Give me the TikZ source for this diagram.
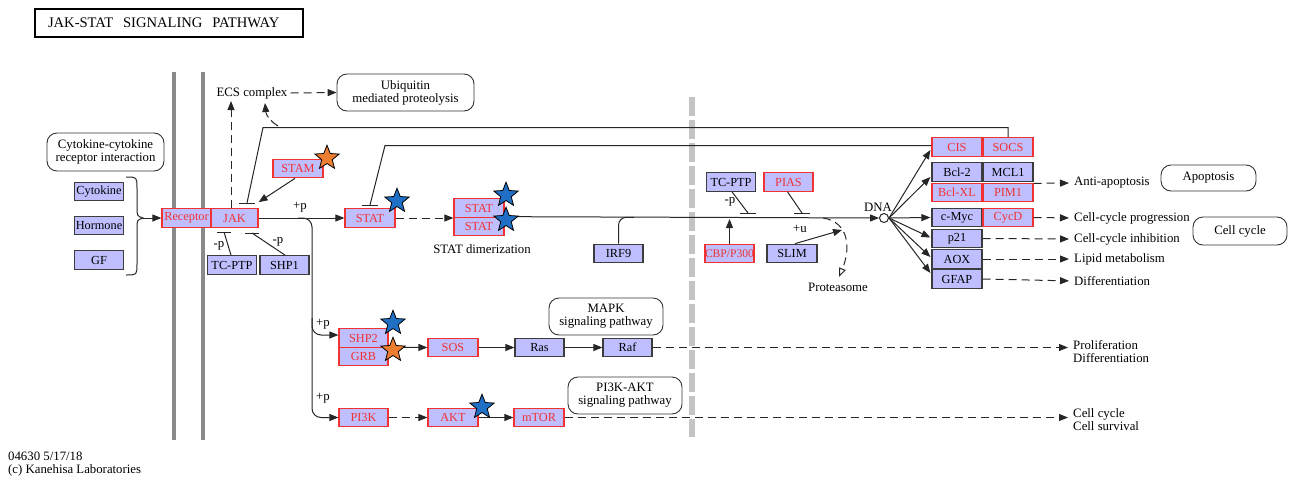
\documentclass[tikz,border=0pt]{standalone}
\usepackage{fontspec}
\setmainfont{Liberation Serif}
\usetikzlibrary{arrows.meta,shapes.geometric,calc}
\definecolor{kfill}{HTML}{BFBFFF}
\definecolor{kred}{HTML}{F03232}
\definecolor{kdark}{HTML}{3C3C3C}
\definecolor{kblue}{HTML}{1F6FC5}
\definecolor{korange}{HTML}{ED7D31}
\definecolor{memb}{HTML}{8A8A8A}
\definecolor{dashg}{HTML}{C4C4C4}
\begin{document}
\begin{tikzpicture}[x=1pt,y=-1pt,
  every node/.style={font=\fontsize{12.8}{13}\selectfont},
  gene/.style={rectangle, draw=kdark, fill=kfill, line width=1.2pt, minimum width=49pt, minimum height=18.5pt, inner sep=0pt, text=black, font=\fontsize{12.3}{13}\selectfont},
  rgene/.style={gene, draw=kred, text=kred},
  pw/.style={rectangle, draw=black!80, rounded corners=10pt, line width=0.9pt, align=center, inner sep=0pt, fill=white},
  conn/.style={line width=1pt, draw=black!85},
  arr/.style={conn, -{Triangle[length=9pt,width=7pt]}},
  darr/.style={arr, dash pattern=on 8pt off 5pt},
  dline/.style={conn, dash pattern=on 8pt off 5pt},
  starb/.style={star, star points=5, star point ratio=2.3, minimum size=25.5pt, inner sep=0pt, draw=black, line width=0.8pt, fill=kblue},
  staro/.style={starb, fill=korange},
  lbl/.style={inner sep=0pt}
]
\useasboundingbox (0,0) rectangle (1289,479);

% membranes
\draw[memb, line width=4pt] (174,72) -- (174,440);
\draw[memb, line width=4pt] (203,72) -- (203,440);
\draw[dashg, line width=6pt, dash pattern=on 19pt off 4pt] (692,97) -- (692,437);

% title
\node[draw=black, line width=1.4pt, minimum width=268pt, minimum height=28pt, text width=242pt, align=left, inner sep=0pt, font=\fontsize{14.6}{15}\selectfont] (title) at (169,23) {JAK-STAT\ \ SIGNALING\ \ PATHWAY};

% pathway boxes
\node[pw, minimum width=137pt, minimum height=37pt] (ubq) at (405.5,92.5) {Ubiquitin\\mediated proteolysis};
\node[pw, minimum width=117pt, minimum height=38pt] (ccr) at (105.5,152) {Cytokine-cytokine\\receptor interaction};
\node[pw, minimum width=114pt, minimum height=37pt] (mapk) at (606,316.5) {MAPK\\signaling pathway};
\node[pw, minimum width=114pt, minimum height=37pt] (pik) at (625,395.5) {PI3K-AKT\\signaling pathway};
\node[pw, minimum width=95pt, minimum height=26pt] (apo) at (1208.5,178) {Apoptosis};
\node[pw, minimum width=94pt, minimum height=28pt] (ccy) at (1240,231) {Cell cycle};

% genes
\node[gene] (cyt) at (99,191.5) {Cytokine};
\node[gene] (hor) at (99,225.5) {Hormone};
\node[gene] (gf) at (99,260) {GF};
\node[rgene] (rec) at (186.5,218) {Receptor};
\node[rgene, minimum width=47pt] (jak) at (234.5,218) {JAK};
\node[rgene, minimum width=50pt] (stam) at (298,168.5) {STAM};
\node[gene] (tcl) at (232,265) {TC-PTP};
\node[gene] (shp1) at (284.5,265) {SHP1};
\node[rgene, minimum width=50pt] (stat) at (370,218) {STAT};
\node[rgene, minimum width=50pt] (std1) at (479,208) {STAT};
\node[rgene, minimum width=50pt] (std2) at (479,226.5) {STAT};
\node[gene] (irf9) at (618.5,253.5) {IRF9};
\node[gene] (tcr) at (731,182) {TC-PTP};
\node[rgene] (pias) at (788.5,182) {PIAS};
\node[rgene, font=\fontsize{11.6}{12}\selectfont] (cbp) at (729.5,253.5) {CBP/P300};
\node[gene, minimum width=50pt] (slim) at (792,253.5) {SLIM};
\node[rgene, minimum width=50pt] (cis) at (957,147) {CIS};
\node[rgene, minimum width=50pt] (socs) at (1008,147) {SOCS};
\node[gene, minimum width=50pt] (bcl2) at (957,172) {Bcl-2};
\node[gene, minimum width=50pt] (mcl1) at (1008,172) {MCL1};
\node[rgene, minimum width=50pt] (bclxl) at (957,192.5) {Bcl-XL};
\node[rgene, minimum width=50pt] (pim1) at (1008,192.5) {PIM1};
\node[gene, minimum width=50pt] (cmyc) at (957,217.5) {c-Myc};
\node[rgene, minimum width=50pt] (cycd) at (1008,217.5) {CycD};
\node[gene, minimum width=50pt] (p21) at (957,238.5) {p21};
\node[gene, minimum width=50pt] (aox) at (957,259) {AOX};
\node[gene, minimum width=50pt] (gfap) at (957,279) {GFAP};
\node[rgene] (shp2) at (363.5,338) {SHP2};
\node[rgene] (grb) at (363.5,356.5) {GRB};
\node[rgene, minimum width=50pt] (sos) at (453,347.5) {SOS};
\node[gene] (ras) at (539.5,347.5) {Ras};
\node[gene] (raf) at (627.5,347.5) {Raf};
\node[rgene] (pi3k) at (363.5,417.5) {PI3K};
\node[rgene, minimum width=50pt] (akt) at (453,417.5) {AKT};
\node[rgene, minimum width=50pt] (mtor) at (539,417.5) {mTOR};

% labels
\node[lbl] (ecs) at (252,93) {ECS complex};
\node[lbl] at (482,249) {STAT dimerization};
\node[circle, draw=black!85, fill=white, minimum size=9pt, inner sep=0pt, line width=1pt] (dna) at (884,218) {};
\node[lbl] at (878,207) {DNA};
\node[lbl] at (838,287) {Proteasome};
\node[lbl] at (300,207) {+p};
\node[lbl] at (219,246) {-p};
\node[lbl] at (278,242) {-p};
\node[lbl] at (730,202) {-p};
\node[lbl] at (800,229) {+u};
\node[lbl] at (323,324) {+p};
\node[lbl] at (323,398) {+p};
\node[lbl, anchor=west] (tanti) at (1074,183) {Anti-apoptosis};
\node[lbl, anchor=west] (tprog) at (1074,218) {Cell-cycle progression};
\node[lbl, anchor=west] (tinh) at (1074,239) {Cell-cycle inhibition};
\node[lbl, anchor=west] (tlip) at (1074,259) {Lipid metabolism};
\node[lbl, anchor=west] (tdif) at (1074,281) {Differentiation};
\node[lbl, anchor=west, align=left] (tprol) at (1073,352) {Proliferation\\Differentiation};
\node[lbl, anchor=west, align=left] (tsurv) at (1073,420) {Cell cycle\\Cell survival};
\node[lbl, anchor=north west, align=left] (foot) at (8,452) {04630 5/17/18\\(c) Kanehisa Laboratories};

% brace and receptor input
\coordinate (bt) at (126,177);
\coordinate (bb) at (126,275);
\coordinate (bp) at (143,218);
\draw[conn] (bt) .. controls (137,177) .. (137,188) -- (137,207) .. controls (137,216) .. (bp) .. controls (137,220) .. (137,229) -- (137,264) .. controls (137,275) .. (bb);
\draw[arr] (bp) -- (rec.west);

% STAM -> JAK
\draw[arr] ($(stam.south)+(-3,0)$) -- ($(jak.north east)+(0,-6)$);

% inhibitions at JAK
\coordinate (t1) at (224,232);
\coordinate (t2) at (252,233);
\draw[conn] ($(tcl.north)+(-1,0)$) -- (t1);
\draw[conn] ($(t1)+(-7,0)$) -- ($(t1)+(7,0)$);
\draw[conn] ($(shp1.north)+(0.5,0)$) -- (t2);
\draw[conn] ($(t2)+(-7,0)$) -- ($(t2)+(7,0)$);

% JAK -> STAT and branches
\draw[arr] (jak.east) -- (stat.west);
\draw[arr, rounded corners=9pt] (298,218) -| (312,417.5) -- (pi3k.west);
\draw[arr, rounded corners=9pt] (312,318) |- ($(shp2.west)+(0,-3)$);

% feedback lines
\coordinate (fb1) at (247,203);
\draw[conn] (socs.north) |- (263,127.5) -- (fb1);
\draw[conn] ($(fb1)+(-8,0)$) -- ($(fb1)+(8,0)$);
\coordinate (fb2) at (370,205);
\draw[conn] ($(cis.west)+(0,-1.5)$) -- (385,145.5) -- (fb2);
\draw[conn] ($(fb2)+(-8,0)$) -- ($(fb2)+(8,0)$);

% ECS complex
\coordinate (ecsin) at (231,101);
\draw[darr] ($(jak.north)+(-3.5,0)$) -- (ecsin);
\coordinate (c1) at (278,126);
\coordinate (c2) at (265,103);
\draw[arr, dash pattern=on 9pt off 4pt] (c1) .. controls (270,121) and (266,115) .. (c2);
\draw[darr] (ecs.east) ++(3,0) -- (ubq.west);

% STAT dimerization
\draw[darr] (stat.east) -- (stat.east -| std1.west);
\draw[arr] (std2.north east) -- (dna.west);
\draw[conn, rounded corners=8pt] (irf9.north) |- (634,217.25);

% nuclear regulators
\coordinate (t3) at (748,213);
\coordinate (t4) at (802,213);
\draw[conn] ($(tcr.south)+(1,0)$) -- (t3);
\draw[conn] ($(t3)+(-8,0)$) -- ($(t3)+(8,0)$);
\draw[conn] ($(pias.south)+(-1,0)$) -- (t4);
\draw[conn] ($(t4)+(-8,0)$) -- ($(t4)+(8,0)$);
\coordinate (cbpin) at (729.5,219);
\draw[arr] (cbp.north) -- (cbpin);
\coordinate (slimin) at (842,230);
\draw[arr] ($(slim.north)+(3,0)$) -- (slimin);
\coordinate (pst) at (823,218);
\coordinate (pen) at (839,277);
\draw[dline, -{Triangle[open,length=9pt,width=7pt]}] (pst) .. controls (849,222) and (851,248) .. (pen);

% fan from DNA
\draw[arr] (dna.east) -- ($(cis.west)+(-1,3)$);
\draw[arr] (dna.east) -- ($(bcl2.west)+(-1,5)$);
\draw[arr] (dna.east) -- ($(cmyc.west)+(-1,0)$);
\draw[arr] (dna.east) -- ($(p21.west)+(-1,-1)$);
\draw[arr] (dna.east) -- ($(aox.west)+(-1,-2)$);
\draw[arr] (dna.east) -- ($(gfap.west)+(-1,-6)$);

% outputs
\draw[darr, shorten >=5pt] ($(mcl1.south east)+(0,1.5)$) -- (tanti.west);
\draw[darr, shorten >=5pt] (cycd.east) -- (tprog.west);
\draw[darr, shorten >=5pt] (p21.east) -- (tinh.west);
\draw[darr, shorten >=5pt] (aox.east) -- (tlip.west);
\draw[darr, shorten >=5pt] (gfap.east) -- (tdif.west);

% MAPK / PI3K branches
\draw[arr] ($(grb.north east)+(0,0.5)$) -- (sos.west);
\draw[arr] (sos.east) -- (ras.west);
\draw[arr] (ras.east) -- (raf.west);
\draw[darr, shorten >=5pt] (raf.east) -- (raf.east -| tprol.west);
\draw[darr] (pi3k.east) -- (akt.west);
\draw[arr] (akt.east) -- (mtor.west);
\draw[darr, shorten >=5pt] (mtor.east) -- (mtor.east -| tsurv.west);

% stars
\node[staro] (s1) at (327,158) {};
\node[starb] (s2) at (397,201) {};
\node[starb] (s3) at (506,195) {};
\node[starb] (s4) at (506,220) {};
\node[starb] (s5) at (393,323) {};
\node[staro] (s6) at (393,350) {};
\node[starb] (s7) at (482,407) {};
\end{tikzpicture}
\end{document}
